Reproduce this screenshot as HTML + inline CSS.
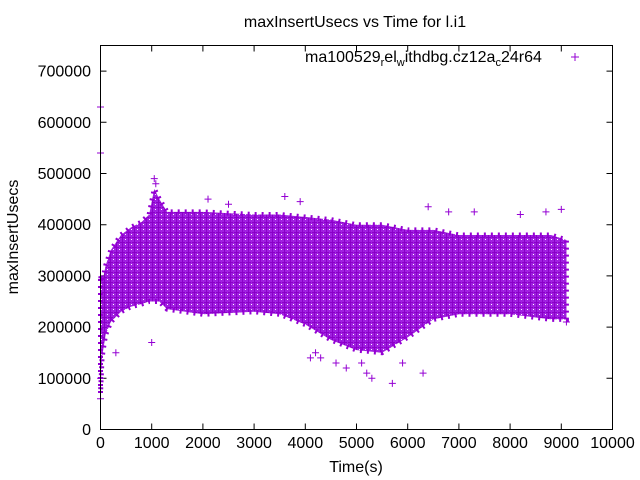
<!DOCTYPE html>
<html><head><meta charset="utf-8"><style>
body{margin:0;background:#fff}
svg{display:block;font-family:"Liberation Sans",sans-serif}
</style></head><body>
<svg id="chart" width="640" height="480" viewBox="0 0 640 480">
<defs>
<pattern id="plus" width="6" height="5" patternUnits="userSpaceOnUse">
<rect width="6" height="5" fill="#a020e0"/>
<path d="M0 2.5h5M2.5 0v5" stroke="#8a00c8" stroke-width="1"/>
<rect x="5" y="4" width="1" height="1" fill="#fff"/>
</pattern>
</defs>
<text x="355" y="27" font-size="16" text-anchor="middle">maxInsertUsecs vs Time for l.i1</text>
<text transform="translate(18,237) rotate(-90)" font-size="16" text-anchor="middle">maxInsertUsecs</text>
<text x="356" y="472" font-size="16" text-anchor="middle">Time(s)</text>
<g id="ticks" font-size="16"></g>
<g id="series"></g>
<rect x="100.5" y="45.5" width="512" height="384" fill="none" stroke="#000"/>
<g>
<text x="305" y="62" font-size="16">ma100529<tspan font-size="11" dy="4">r</tspan><tspan dy="-4">el</tspan><tspan font-size="11" dy="4">w</tspan><tspan dy="-4">ithdbg.cz12a</tspan><tspan font-size="11" dy="4">c</tspan><tspan dy="-4">24r64</tspan></text>
<path d="M571 57h8M575 53v8" stroke="#9400d3"/>
</g>
</svg>
<script>
const xTicks=[0,1000,2000,3000,4000,5000,6000,7000,8000,9000,10000];
const yTicks=[0,100000,200000,300000,400000,500000,600000,700000];
const envTime=[0,30,60,100,200,400,600,800,950,1050,1150,1300,2000,3000,3500,4000,4500,5000,5500,6000,6500,7000,8000,8800,9100];
const envLow=[70000,140000,160000,185000,210000,230000,240000,245000,250000,250000,250000,235000,225000,230000,225000,205000,175000,155000,150000,180000,215000,225000,225000,215000,215000];
const envHigh=[300000,290000,300000,320000,350000,380000,395000,405000,420000,470000,450000,425000,425000,420000,420000,415000,410000,400000,400000,390000,390000,380000,380000,380000,370000];
const outX=[0,0,0,0,1050,1080,2100,2500,3600,3900,4300,4600,4800,5300,5700,6300,6400,6800,7300,8200,8700,9000,4100,4200,5200,5100,5900,1000,9100,300];
const outY=[630000,540000,60000,100000,490000,480000,450000,440000,455000,445000,140000,130000,120000,100000,90000,110000,435000,425000,425000,420000,425000,430000,140000,150000,110000,130000,130000,170000,210000,150000];
const sx=v=>100.5+v*512/10000;
const sy=v=>429.5-v*384/750000;
const NS="http://www.w3.org/2000/svg";
const tg=document.getElementById('ticks');
xTicks.forEach(t=>{
 const l=document.createElementNS(NS,'path');
 l.setAttribute('d',`M${sx(t)} 429.5v-6M${sx(t)} 45.5v6`);l.setAttribute('stroke','#000');
 
 
 tg.appendChild(l);
 const tx=document.createElementNS(NS,'text');
 tx.setAttribute('x',sx(t));tx.setAttribute('y',448);tx.setAttribute('text-anchor','middle');tx.textContent=t;
 
 
 tg.appendChild(tx);
});
yTicks.forEach(t=>{
 const l=document.createElementNS(NS,'path');
 l.setAttribute('d',`M100.5 ${sy(t)}h6M612.5 ${sy(t)}h-6`);l.setAttribute('stroke','#000');
 
 
 tg.appendChild(l);
 const tx=document.createElementNS(NS,'text');
 tx.setAttribute('x',91);tx.setAttribute('y',sy(t)+5.5);tx.setAttribute('text-anchor','end');tx.textContent=t;
 
 
 tg.appendChild(tx);
});
const sg=document.getElementById('series');
let d='';
envTime.forEach((t,i)=>{d+=(i?'L':'M')+sx(t)+' '+sy(envHigh[i]);});
for(let i=envTime.length-1;i>=0;i--)d+='L'+sx(envTime[i])+' '+sy(envLow[i]);
const poly=document.createElementNS(NS,'path');
poly.setAttribute('d',d+'Z');poly.setAttribute('fill','url(#plus)');
poly.setAttribute('stroke','#9400d3');poly.setAttribute('stroke-width','5');poly.setAttribute('stroke-dasharray','2 5');


sg.appendChild(poly);
outX.forEach((x,i)=>{
 const p=document.createElementNS(NS,'path');
 const cx=sx(x),cy=sy(outY[i]);
 p.setAttribute('d',`M${cx-3.5} ${cy}h7M${cx} ${cy-3.5}v7`);p.setAttribute('stroke','#9400d3');
 
 
 sg.appendChild(p);
});
</script>
</body></html>
